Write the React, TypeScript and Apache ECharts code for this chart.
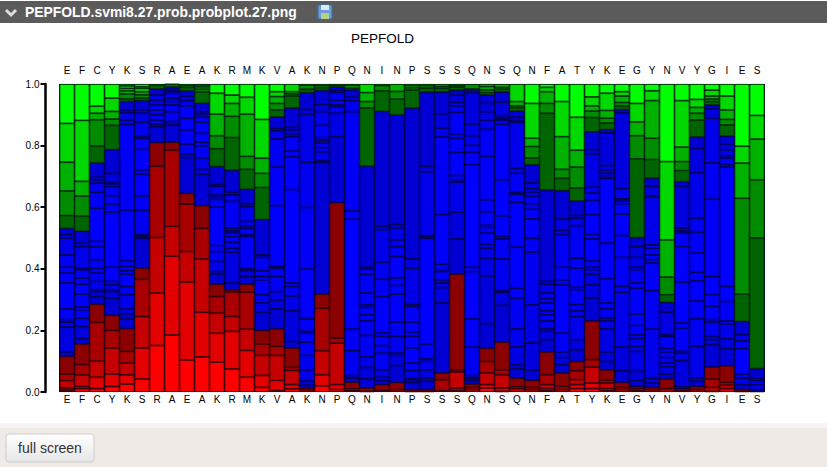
import React, { useEffect, useRef } from "react";
import * as echarts from "echarts";

const categories = "E F C Y K S R A E A K R M K V A K N P Q N I N P S S S Q N S Q N F A T Y K E G Y N V Y G I E S".split(" ");
const yTicks = [0, 0.2, 0.4, 0.6, 0.8, 1];
const chartTitle = "PEPFOLD";
const fileName = "PEPFOLD.svmi8.27.prob.probplot.27.png";
const buttonLabel = "full screen";

// cumulative tops of each segment, per column, bottom to top
const redTops: number[][] = [
  [.006,.013,.037,.058,.116],[.011,.018,.056,.089,.156],[.011,.048,.1,.226,.285],[.018,.058,.143,.2,.249],
  [.026,.056,.094,.132,.206],[.042,.143,.245,.366,.402],[.151,.321,.502,.733,.81],[.185,.441,.538,.785,.811],
  [.104,.357,.456,.61,.645],[.114,.259,.432,.531,.605],[.097,.191,.256,.31,.35],[.075,.197,.245,.325,.332],
  [.048,.135,.204,.324,.35],[.015,.054,.119,.156,.2],[.005,.038,.119,.148,.205],[.01,.024,.07,.08,.143],
  [.008,.013],[.02,.056,.134,.272,.318],[.008,.024,.159,.175,.615],[.004,.011,.032],
  [.002,.013],[.005,.024],[.008,.031],[.002,.008],[.002,.008],[.004,.04,.062],[.005,.013,.065,.072,.383],
  [.008,.015,.026],[.013,.024,.062,.099,.142],[.002,.013,.056,.072,.162],[.011,.018,.045],[.008,.015,.038],
  [.004,.011,.024,.056,.13],[.008,.018,.062],[.011,.024,.04,.069,.099],[.011,.029,.081,.105,.231],
  [.004,.011,.029,.038,.072],[.008,.015,.031],[.004,.011,.018],[.008,.015],[.011,.042],[.004,.011],[.008,.018],
  [.002,.015,.042,.081],[.011,.022,.031,.085],[.002,.008],[.002],
];
const blueTops: number[][] = [
  [.13,.211,.227,.235,.27,.354,.386,.405,.445,.5,.511,.531],
  [.173,.213,.24,.267,.276,.318,.35,.37,.397,.402,.472,.483,.522],
  [.31,.326,.332,.359,.386,.402,.429,.472,.489,.597,.649,.678,.689,.697,.744],
  [.305,.326,.332,.348,.359,.405,.584,.61,.637,.667,.676,.682,.71,.787],
  [.238,.254,.27,.316,.343,.383,.394,.408,.426,.591,.869,.883,.907,.916,.943],
  [.5,.505,.51,.591,.637,.707,.721,.788,.824,.831,.876,.905,.916,.946],
  [.862,.87,.883,.9,.916,.932,.948,.964,.984],
  [.868,.878,.91,.932,.943,.953,.97,.978,.988],
  [.761,.773,.805,.851,.889,.929,.946,.961,.978],
  [.707,.723,.76,.799,.811,.84,.876,.892,.903,.91,.937],
  [.383,.391,.424,.456,.476,.6,.625,.632,.639,.668,.675,.732],
  [.354,.454,.467,.486,.505,.516,.523,.531,.619,.64,.649,.72],
  [.375,.394,.4,.505,.51,.531,.539,.554,.602,.611,.658],
  [.259,.289,.316,.364,.375,.394,.437,.445,.56],
  [.27,.299,.326,.375,.402,.408,.605,.73,.821,.849,.856,.893],
  [.164,.264,.312,.343,.354,.657,.764,.782,.829,.838,.851,.859,.922],
  [.022,.035,.072,.119,.162,.191,.197,.238,.399,.599,.746,.902,.917,.972],
  [.746,.751,.78,.794,.808,.817,.826,.866,.91,.934,.979],
  [.829,.905,.926,.932,.948,.972,.979,.99],
  [.045,.053,.135,.204,.561,.588,.91,.946,.957,.981],
  [.043,.08,.114,.184,.231,.251,.275,.283,.321,.383,.399,.405,.733],
  [.037,.048,.072,.126,.151,.181,.191,.31,.366,.422,.527,.538,.911],
  [.086,.119,.126,.181,.227,.318,.346,.37,.44,.472,.494,.533,.544,.9],
  [.031,.04,.045,.069,.094,.143,.181,.195,.227,.278,.285,.402,.432,.922],
  [.035,.045,.072,.099,.107,.156,.499,.505,.5075,.715,.733,.974],
  [.289,.339,.354,.364,.391,.397,.415,.576,.828,.857,.903,.974],
  [.497,.584,.682,.689,.703,.778,.824,.838,.908,.929,.94,.964,.98],
  [.037,.045,.053,.146,.237,.391,.405,.739,.778,.801,.832,.87,.97,.98],
  [.222,.377,.435,.467,.48,.516,.534,.541,.585,.624,.765,.853,.883,.91,.937,.965],
  [.281,.324,.329,.432,.497,.505,.572,.689,.869,.883,.889,.897,.941,.974],
  [.075,.089,.147,.205,.305,.337,.47,.616,.642,.649,.71,.726,.876,.883,.892,.912],
  [.072,.159,.283,.454,.499,.5,.562,.593,.611,.636,.649,.66,.679,.738],
  [.17,.197,.205,.231,.251,.264,.289,.303,.321,.35,.359,.656],
  [.089,.112,.13,.191,.348,.364,.405,.511,.525,.562,.654],
  [.137,.17,.245,.264,.284,.332,.34,.402,.434,.54,.564,.573,.62],
  [.305,.348,.381,.397,.405,.426,.497,.513,.576,.623,.646,.665,.773,.787,.845],
  [.099,.13,.205,.231,.24,.27,.289,.368,.483,.694,.702,.71,.721,.735,.841,.852],
  [.069,.146,.324,.343,.437,.508,.578,.611,.62,.627,.66,.906,.917],
  [.038,.067,.132,.148,.173,.186,.216,.253,.337,.354,.397,.405,.437,.472,.501],
  [.029,.045,.204,.329,.419,.43,.445,.467,.478,.635,.668,.694],
  [.058,.083,.094,.112,.13,.141,.181,.186,.259,.291],
  [.018,.102,.126,.132,.208,.224,.357,.472,.516,.523,.532,.669,.683],
  [.035,.045,.148,.238,.296,.361,.389,.451,.519,.564,.712,.791,.828],
  [.154,.17,.181,.227,.235,.278,.316,.375,.626,.744,.889,.919,.932],
  [.141,.173,.221,.231,.294,.343,.73,.739,.76,.767,.786,.805,.831],
  [.024,.045,.058,.141,.166,.186,.229],
  [.008,.024,.037,.045,.076],
];
const greenTops: number[][] = [
  [.573,.653,.746,.872,1],[.571,.636,.684,.882,1],[.798,.884,.905,.928,1],[.866,.886,.911,.954,1],
  [.952,.968,.978,.986,.994,1],[.954,.965,.975,.986,.991,1],[.997,1],[.991,.999,1],
  [.989,.995,1],[.974,.983,.991,.997,1],[.79,.832,.902,.97,1],[.826,.895,.937,.964,1],
  [.723,.765,.902,.957,1],[.664,.71,.759,.885,1],[.916,.937,.959,.975,1],[.961,.968,.975,1],
  [.983,.997,1],[.988,.995,1],[.995,1],[.986,.997,1],
  [.922,.943,.972,1],[.978,.995,1],[.951,.976,1],[.98,.988,.995,1],[.987,.995,1],[.986,.992,1],[.99,.995,1],
  [.984,1],[.972,.981,.992,1],[.983,.989,1],[.923,.929,.943,1],[.76,.797,.824,.937,1],
  [.905,.937,.975,.989,1],[.694,.723,.829,.943,1],[.662,.73,.785,.892,1],[.891,.912,.929,.958,1],
  [.873,.889,.914,.97,1],[.929,.94,.961,.975,1],[.757,.832,.877,.937,1],[.755,.824,.946,.978,1],
  [.316,.373,.494,.748,1],[.719,.748,.795,.946,1],[.883,.905,.924,.95,1],[.943,.951,.961,.98,1],
  [.867,.885,.916,.961,1],[.318,.629,.743,.798,1],[.5,.689,.821,.898,1],
];

const toHex = (n: number) => Math.round(n).toString(16).padStart(2, "0");
const redShade = (t: number) => `#${toHex(255 - t * 116)}0000`;
const greenShade = (t: number) => `#00${toHex(255 - t * 155)}00`;
const blueShade = (t: number) => `#0000${toHex(212 + 43 * Math.sin(Math.PI * t))}`;

type Seg = { value: number; color: string; edge: string };
const columns: Seg[][] = categories.map((_, c) => {
  const segs: Seg[] = [];
  let prev = 0;
  const push = (top: number, color: string, edge: string) => {
    segs.push({ value: +(top - prev).toFixed(4), color, edge });
    prev = top;
  };
  const r = redTops[c], b = blueTops[c], g = greenTops[c];
  r.forEach((top, i) => push(top, redShade(Math.max(0, 1 - (r.length - 1 - i) / 4)), "#3c0000"));
  b.forEach((top, i) => push(top, blueShade(b.length > 1 ? i / (b.length - 1) : 0.5), "#000050"));
  g.forEach((top, i) => push(top, greenShade(Math.max(0, 1 - i / 4)), "#003400"));
  return segs;
});
const depth = Math.max(...columns.map((s) => s.length));
const stackedSeries = Array.from({ length: depth }, (_, i) => ({
  type: "bar",
  stack: "p",
  barWidth: "100%",
  silent: true,
  data: columns.map((col) =>
    col[i]
      ? { value: col[i].value, itemStyle: { color: col[i].color, borderColor: col[i].edge, borderWidth: 0.8 } }
      : "-",
  ),
}));

const labelFont = { fontFamily: "Liberation Sans", fontSize: 10, color: "#000" };

export default function App() {
  const ref = useRef<HTMLDivElement>(null);
  useEffect(() => {
    document.body.style.margin = "0";
    const chart = echarts.init(ref.current!, undefined, { renderer: "svg" });
    chart.setOption({
      animation: false,
      backgroundColor: "#ffffff",
      title: {
        text: chartTitle,
        left: 346,
        top: 26,
        textStyle: { fontFamily: "Liberation Sans", fontSize: 13.5, fontWeight: "normal", color: "#000" },
      },
      grid: { left: 59.5, top: 84, width: 705, height: 308 },
      xAxis: [
        {
          type: "category", position: "bottom", data: categories,
          axisLine: { show: false }, axisTick: { show: false },
          axisLabel: { ...labelFont, interval: 0, margin: 2 },
        },
        {
          type: "category", position: "top", data: categories,
          axisLine: { show: false }, axisTick: { show: false },
          axisLabel: { ...labelFont, interval: 0, margin: 9 },
        },
      ],
      yAxis: {
        type: "value", min: yTicks[0], max: yTicks[yTicks.length - 1], interval: 0.2, offset: 14,
        splitLine: { show: false },
        axisLine: { show: true, lineStyle: { color: "#000", width: 2.5 } },
        axisTick: { show: true, length: 5, lineStyle: { color: "#000", width: 2 } },
        axisLabel: { ...labelFont, margin: 6, formatter: (v: number) => v.toFixed(1) },
      },
      series: stackedSeries,
      graphic: [
        { type: "rect", z: -1, shape: { x: 59, y: 84, width: 706, height: 308 }, style: { fill: "#000040" } },
        { type: "rect", z: -1, shape: { x: 0, y: 423, width: 827, height: 5 }, style: { fill: "#f5f5f8" } },
        { type: "rect", z: -1, shape: { x: 0, y: 428, width: 827, height: 39 }, style: { fill: "#efeae6" } },
        { type: "rect", shape: { x: 0, y: 1, width: 827, height: 22 }, style: { fill: "#5b5b5b" } },
        { type: "polyline", shape: { points: [[6, 10], [11, 15], [16, 10]] }, style: { stroke: "#dddddd", lineWidth: 3, fill: "none" } },
        { type: "text", x: 25, y: 5, style: { text: fileName, fill: "#fff", font: "bold 13.9px 'Liberation Sans'" } },
        { type: "rect", shape: { x: 318, y: 5, width: 14, height: 14, r: 1 }, style: { fill: "#6b9bd8", stroke: "#3a6ea8", lineWidth: 1 } },
        { type: "rect", shape: { x: 321, y: 5, width: 8, height: 5 }, style: { fill: "#dfe9f5" } },
        { type: "rect", shape: { x: 321, y: 13, width: 8, height: 6 }, style: { fill: "#b4d08a" } },
        {
          type: "rect",
          shape: { x: 6, y: 434, width: 88, height: 28, r: 3 },
          style: {
            fill: new echarts.graphic.LinearGradient(0, 0, 0, 1, [
              { offset: 0, color: "#ffffff" },
              { offset: 1, color: "#e6e6e6" },
            ]),
            stroke: "#cccccc",
            lineWidth: 1,
          },
        },
        { type: "text", x: 50, y: 448, style: { text: buttonLabel, fill: "#333", font: "14px 'Liberation Sans'", align: "center", verticalAlign: "middle" } },
      ],
    });
    return () => chart.dispose();
  }, []);
  return <div ref={ref} style={{ position: "fixed", left: 0, top: 0, width: 827, height: 467 }} />;
}
